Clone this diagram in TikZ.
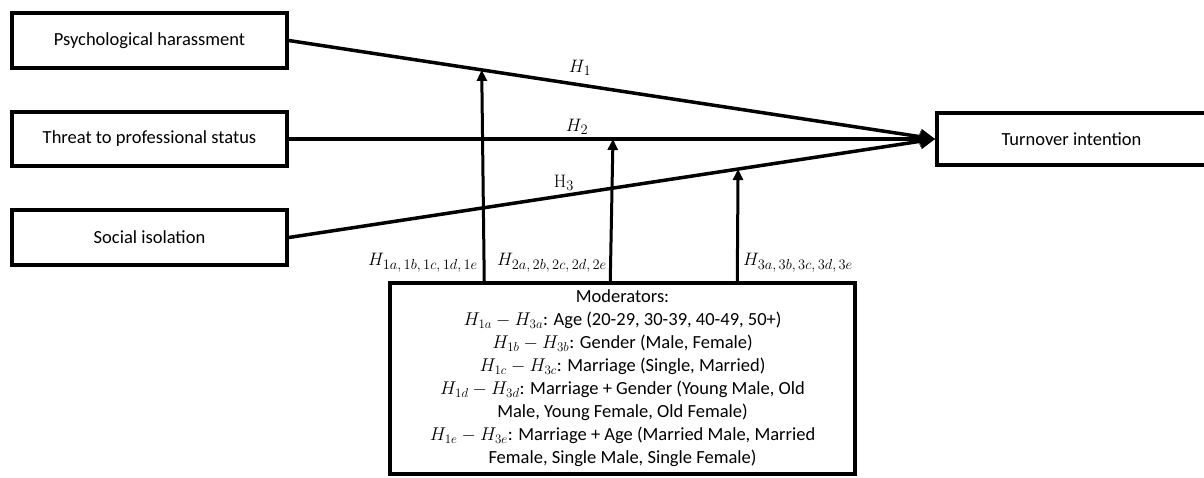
\RequirePackage{fix-cm}
\documentclass[tikz,border=0pt]{standalone}
\usepackage[no-math]{fontspec}
\setmainfont{Carlito}
\usetikzlibrary{arrows.meta}
\newcommand\hlabel[2]{$#1_{\mbox{\fontsize{14.5}{15}\selectfont$#2$}}$}
\tikzset{
  varbox/.style={draw, line width=3.5pt, rectangle, inner sep=0pt, font=\fontsize{18.5}{22}\selectfont},
  pathline/.style={line width=3.5pt, -{Triangle[length=15pt,width=15pt]}},
  modline/.style={line width=3pt, -{Triangle[length=11pt,width=10pt]}},
  hlab/.style={font=\fontsize{18}{20}\selectfont, inner sep=0pt},
}
\begin{document}
\begin{tikzpicture}[x=1pt,y=-1pt]
\useasboundingbox (0,0) rectangle (1204,477);
\node[varbox, minimum width=275pt, minimum height=55pt] (ph) at (149.5,40.5) {Psychological harassment};
\node[varbox, minimum width=275pt, minimum height=54pt] (tps) at (149.5,139) {Threat to professional status};
\node[varbox, minimum width=275pt, minimum height=55pt] (si) at (149.5,237.5) {Social isolation};
\node[varbox, minimum width=269pt, minimum height=52pt] (ti) at (1071.5,139) {Turnover intention};
\node[draw, line width=3.5pt, minimum width=465pt, minimum height=191pt, inner sep=0pt, align=center,
      font=\fontsize{18.5}{23}\selectfont] (mod) at (622.5,378.5)
  {Moderators:\\
   $H_{1a}-H_{3a}$: Age (20-29, 30-39, 40-49, 50+)\\
   $H_{1b}-H_{3b}$: Gender (Male, Female)\\
   $H_{1c}-H_{3c}$: Marriage (Single, Married)\\
   $H_{1d}-H_{3d}$: Marriage + Gender (Young Male, Old\\
   Male, Young Female, Old Female)\\
   $H_{1e}-H_{3e}$: Marriage + Age (Married Male, Married\\
   Female, Single Male, Single Female)};
\draw[pathline] (ph.east) -- (ti.west);
\draw[pathline] (tps.east) -- (ti.west);
\draw[pathline] (si.east) -- (ti.west);
\path (ph.east) -- (ti.west) coordinate[pos=0.2985] (m1);
\path (tps.east) -- (ti.west) coordinate[pos=0.5015] (m2);
\path (si.east) -- (ti.west) coordinate[pos=0.695] (m3);
\draw[modline] ([xshift=96pt]mod.north west) -- (m1);
\draw[modline] ([xshift=222pt]mod.north west) -- (m2);
\draw[modline] ([xshift=349pt]mod.north west) -- (m3);
\node[hlab] (l1) at (580,68) {\hlabel{H}{1}};
\node[hlab] (l2) at (577,127) {\hlabel{H}{2}};
\node[hlab] (l3) at (564,183) {\hlabel{\mathrm{H}}{3}};
\node[hlab] (la) at (423,263) {\hlabel{H}{1a,1b,1c,1d,1e}};
\node[hlab] (lb) at (552,263) {\hlabel{H}{2a,2b,2c,2d,2e}};
\node[hlab] (lc) at (798,263) {\hlabel{H}{3a,3b,3c,3d,3e}};
\end{tikzpicture}
\end{document}
